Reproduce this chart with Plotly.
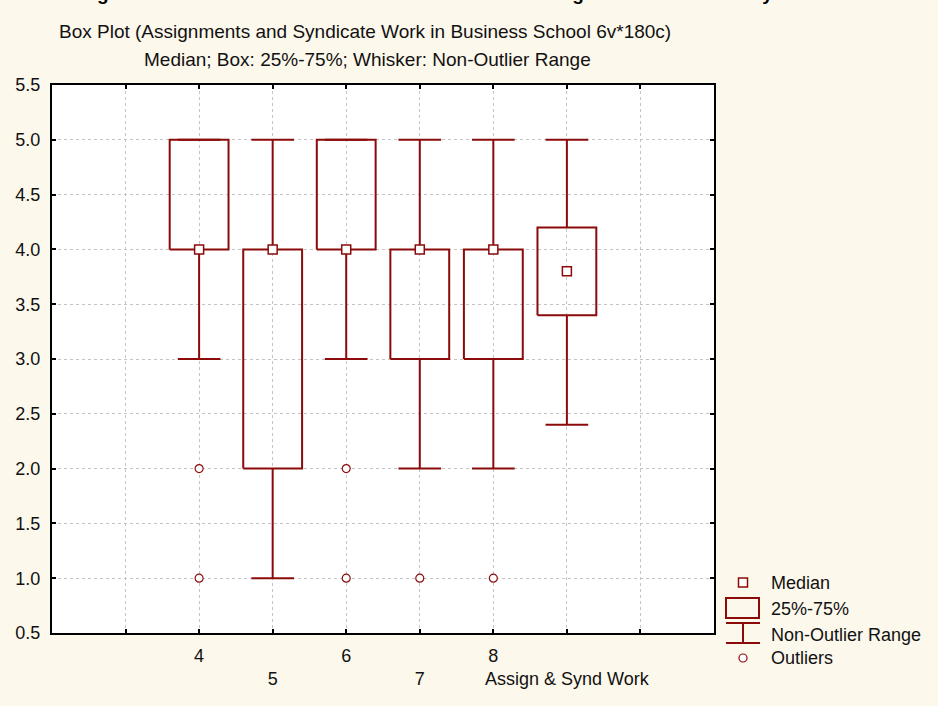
import plotly.graph_objects as go

# Summary statistics for each rating item (x position = item number)
positions = [4, 5, 6, 7, 8, 9]
q1 = [4.0, 2.0, 4.0, 3.0, 3.0, 3.4]
q3 = [5.0, 4.0, 5.0, 4.0, 4.0, 4.2]
medians = [4.0, 4.0, 4.0, 4.0, 4.0, 3.8]
whisker_low = [3.0, 1.0, 3.0, 2.0, 2.0, 2.4]
whisker_high = [5.0, 5.0, 5.0, 5.0, 5.0, 5.0]
outliers = [[2.0, 1.0], [], [2.0, 1.0], [1.0], [1.0], []]

tick_positions = [3, 4, 5, 6, 7, 8, 9, 10]
tick_labels = ["", "4", "<br>5", "6", "<br>7", "8", "<br>Assign & Synd Work", ""]

DARK_RED = "#8B0A0A"
CREAM = "#FDF8EC"
FONT = "Arial, Liberation Sans, sans-serif"

BOX_HALF = 0.40
CAP_HALF = 0.29

# Plot-area placement in pixels
W, H = 938, 706
L, R, T, B = 52, 714, 85, 633


def px_x(p):
    return (p - L) / (R - L)


def px_y(p):
    return (B - p) / (B - T)


# Box outlines
bx, by = [], []
for x, lo, hi in zip(positions, q1, q3):
    bx += [x - BOX_HALF, x + BOX_HALF, x + BOX_HALF, x - BOX_HALF, x - BOX_HALF, None]
    by += [lo, lo, hi, hi, lo, None]

# Whiskers and caps
wx, wy = [], []
for x, lo, hi, wl, wh in zip(positions, q1, q3, whisker_low, whisker_high):
    wx += [x, x, None, x, x, None]
    wy += [hi, wh, None, lo, wl, None]
    wx += [x - CAP_HALF, x + CAP_HALF, None, x - CAP_HALF, x + CAP_HALF, None]
    wy += [wh, wh, None, wl, wl, None]

ox, oy = [], []
for x, vals in zip(positions, outliers):
    for v in vals:
        ox.append(x)
        oy.append(v)

fig = go.Figure()
fig.add_trace(go.Scatter(x=wx, y=wy, mode="lines",
                         line=dict(color=DARK_RED, width=2), hoverinfo="skip"))
fig.add_trace(go.Scatter(x=bx, y=by, mode="lines",
                         line=dict(color=DARK_RED, width=2), hoverinfo="skip"))
fig.add_trace(go.Scatter(x=positions, y=medians, mode="markers",
                         marker=dict(symbol="square", size=9, color="white",
                                     line=dict(color=DARK_RED, width=1.5))))
fig.add_trace(go.Scatter(x=ox, y=oy, mode="markers",
                         marker=dict(symbol="circle", size=8, color="white",
                                     line=dict(color=DARK_RED, width=1.2))))

axis_common = dict(
    showline=True, linecolor="black", linewidth=2, mirror="ticks",
    showgrid=True, gridcolor="#C4C4C4", griddash="dot", gridwidth=1,
    ticks="inside", ticklen=4, tickcolor="black", tickwidth=1.5,
    zeroline=False, automargin=False,
    tickfont=dict(family=FONT, size=18, color="#111111"),
)

fig.update_xaxes(range=[2, 11], tickmode="array", tickvals=tick_positions,
                 ticktext=tick_labels, tickangle=0, ticklabelstandoff=5, **axis_common)
fig.update_yaxes(range=[0.5, 5.5], tickmode="array",
                 tickvals=[0.5 + 0.5 * i for i in range(11)],
                 ticktext=[f"{0.5 + 0.5 * i:.1f}" for i in range(11)],
                 ticklabelstandoff=6, **axis_common)

annotations = [
    dict(text="<b>Figure 4: Box Plot of Students' Assessment of Teaching and Course Delivery</b>",
         x=px_x(78), y=px_y(-7), xref="paper", yref="paper",
         xanchor="left", yanchor="middle", showarrow=False,
         font=dict(family=FONT, size=19, color="black")),
    dict(text="Box Plot (Assignments and Syndicate Work in Business School 6v*180c)",
         x=px_x(365), y=px_y(32), xref="paper", yref="paper",
         xanchor="center", yanchor="middle", showarrow=False,
         font=dict(family=FONT, size=19, color="#111111")),
    dict(text="Median; Box: 25%-75%; Whisker: Non-Outlier Range",
         x=px_x(367), y=px_y(60), xref="paper", yref="paper",
         xanchor="center", yanchor="middle", showarrow=False,
         font=dict(family=FONT, size=19, color="#111111")),
]

# Key for the symbols
legend_items = [("Median", 583), ("25%-75%", 609), ("Non-Outlier Range", 635), ("Outliers", 658)]
for label, ypix in legend_items:
    annotations.append(dict(text=label, x=px_x(769), y=px_y(ypix), xref="paper", yref="paper",
                            xanchor="left", yanchor="middle", showarrow=False,
                            font=dict(family=FONT, size=18, color="#111111")))

shapes = [
    dict(type="rect", xref="paper", yref="paper",
         x0=px_x(738.5), x1=px_x(747.5), y0=px_y(587), y1=px_y(578),
         line=dict(color=DARK_RED, width=1.5), fillcolor="white"),
    dict(type="rect", xref="paper", yref="paper",
         x0=px_x(726), x1=px_x(759), y0=px_y(618), y1=px_y(598),
         line=dict(color=DARK_RED, width=2), fillcolor="rgba(0,0,0,0)"),
    dict(type="line", xref="paper", yref="paper",
         x0=px_x(726), x1=px_x(760), y0=px_y(623), y1=px_y(623),
         line=dict(color=DARK_RED, width=2)),
    dict(type="line", xref="paper", yref="paper",
         x0=px_x(726), x1=px_x(760), y0=px_y(643), y1=px_y(643),
         line=dict(color=DARK_RED, width=2)),
    dict(type="line", xref="paper", yref="paper",
         x0=px_x(743), x1=px_x(743), y0=px_y(623), y1=px_y(643),
         line=dict(color=DARK_RED, width=2)),
    dict(type="circle", xref="paper", yref="paper",
         x0=px_x(739), x1=px_x(747), y0=px_y(662), y1=px_y(654),
         line=dict(color=DARK_RED, width=1.2), fillcolor="white"),
]

fig.update_layout(
    width=W, height=H,
    margin=dict(l=L, r=W - R, t=T, b=H - B, pad=0),
    paper_bgcolor=CREAM, plot_bgcolor="white",
    showlegend=False,
    annotations=annotations, shapes=shapes,
    font=dict(family=FONT),
)

fig.write_html("out.html")
